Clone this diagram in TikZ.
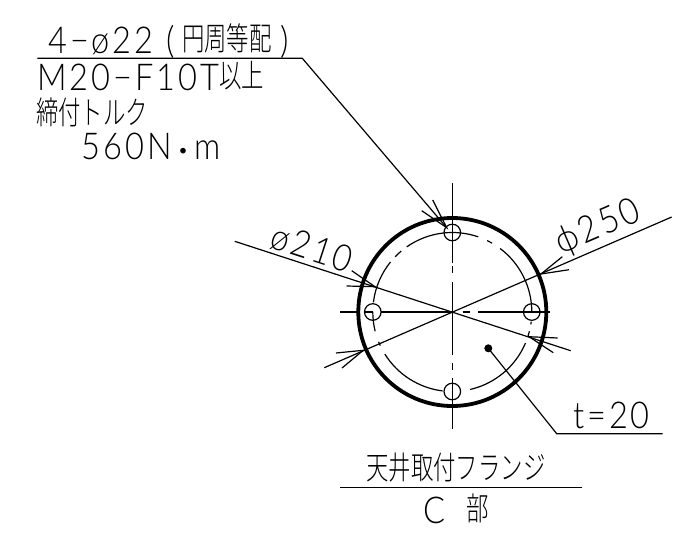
\documentclass[tikz,border=0pt]{standalone}
\usepackage{graphicx}
\usepackage{fontspec}
\setmainfont[FakeStretch=0.88,LetterSpace=8]{Lato Light}
\newfontfamily\cjkfont{Noto Sans CJK JP Light}
\newfontfamily\cjkdot{Noto Sans CJK JP Bold}
\usetikzlibrary{calc,positioning}
\tikzset{
    cadline/.style={line width=1.2pt,black},
    rimline/.style={line width=3.8pt,black},
    cadtext/.style={inner sep=0pt,anchor=base west,font=\fontsize{37}{37}\selectfont},
    jptext/.style={inner sep=0pt,anchor=base west},
}
\newcommand{\jpin}[1]{\raisebox{3pt}{\scalebox{.7}[1]{\fontsize{32}{32}\selectfont\cjkfont #1}}}
\begin{document}
\begin{tikzpicture}[x=1pt,y=-1pt]
    \useasboundingbox (0,0) rectangle (675,541);
    \coordinate (ctr) at (452.3,312);
    % flange
    \draw[rimline] (ctr) circle (94);
    \foreach \hx/\hy in {0/-79.5,0/79.5,-79.5/0,79.5/0}
        \draw[cadline] ($(ctr)+(\hx,\hy)$) circle (8.3);
    % bolt circle, angles are screen angles with y down
    \foreach \sa/\ea in {-96.5/-71,-64/-60,-53/0,7/9,14/18,23/77,-125/-96.5,-136/-130,-173/-141,166/180,155/158,97/148}
        \draw[cadline] ([shift={(\sa:79.5)}]ctr) arc[start angle=\sa,end angle=\ea,radius=79.5];
    % center lines
    \foreach \ya/\yb in {183/263,266/272.7,281.7/355,362.7/370,378/429}
        \draw[cadline] (452.3,\ya)--(452.3,\yb);
    \foreach \xa/\xb in {340/356.7,365/373,381/452.3,463/470,478/550}
        \draw[cadline] (\xa,312)--(\xb,312);
    % dimension lines
    \coordinate (d250a) at (671.7,217);
    \coordinate (d250b) at (324.3,367.7);
    \coordinate (d210a) at (234.7,241.3);
    \coordinate (d210b) at (570.7,350.7);
    \draw[cadline] (d250a)--(d250b);
    \draw[cadline] (d210a)--(d210b);
    % arrow tips, drawn as open barbs
    \foreach \tx/\ty/\ax/\ay/\bx/\by in {
        541/274/562.3/256.7/569/269.7,
        363.3/350.3/342/368/336/353,
        375/286.7/351.7/270.7/346.7/286,
        529/336.7/557.7/338/553.3/352.7,
        446.7/227.7/432.7/200/421.7/210.7}
        \draw[cadline] (\ax,\ay)--(\tx,\ty)--(\bx,\by);
    % leader to the holes
    \coordinate (holeld) at (37.3,58.3);
    \coordinate (holelk) at (302.3,58.3);
    \coordinate (holetip) at (446.7,227.7);
    \draw[cadline] (holeld)--(holelk)--(holetip);
    % plate thickness
    \fill (488.3,348.3) coordinate (platedot) circle (4);
    \coordinate (platek) at (556.7,433.7);
    \coordinate (plateend) at (662.7,433.7);
    \draw[cadline] (platedot)--(platek)--(plateend);
    \node[cadtext] (platet) at (573,428) {t=20};
    % texts
    \node[cadtext] (holes) at (48,53.3) {4−ø22\hspace{13pt}(\hspace{7pt}\jpin{円周等配}\hspace{9pt})};
    \node[cadtext] (bolt) at (37,90) {M20−F10T\jpin{以上}};
    \node[jptext] (torqlab) at (36,127) {\jpin{締付トルク}};
    \node[cadtext] (torq) at (81.7,159) {560N{\fontsize{22}{22}\selectfont\cjkdot ・}m};
    \node[cadtext,anchor=center,rotate=-18] (dia210) at (312,248) {ø210};
    \node[cadtext,anchor=center,rotate=23.4] (dia250) at (598,228) {ϕ250};
    % title
    \node[jptext] (title) at (366,482) {\jpin{天井取付フランジ}};
    \coordinate (titlea) at (340,487.7);
    \coordinate (titleb) at (581.7,487.7);
    \draw[cadline] (titlea)--(titleb);
    \node[cadtext] (partc) at (423,523) {C};
    \node[jptext] (partb) at (466.7,523) {\jpin{部}};
\end{tikzpicture}
\end{document}
